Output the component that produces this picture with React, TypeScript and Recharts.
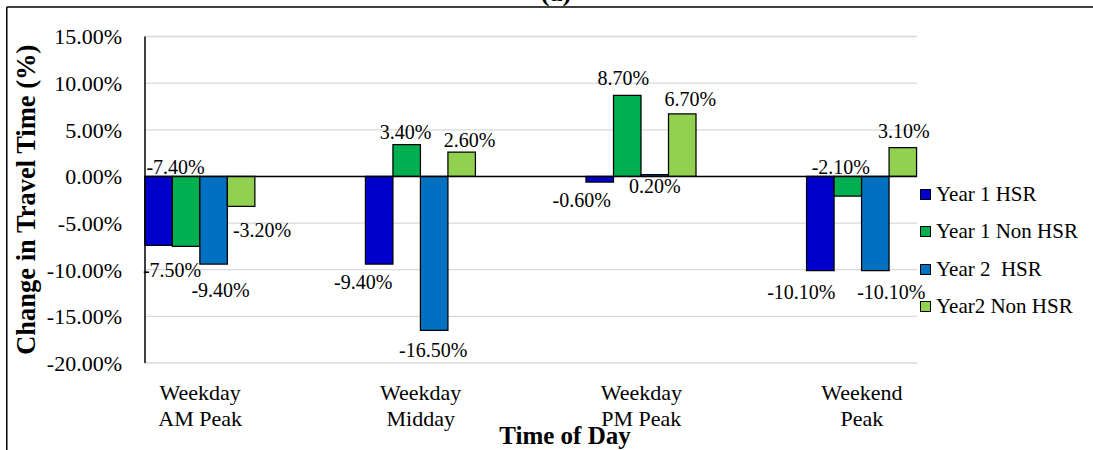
import React from 'react';
import {
  BarChart,
  Bar,
  XAxis,
  YAxis,
  CartesianGrid,
  Legend,
  LabelList,
  ReferenceLine,
  Label,
} from 'recharts';

const serif = '"Liberation Serif", "Times New Roman", Times, serif';

const categories = [
  ['Weekday', 'AM Peak'],
  ['Weekday', 'Midday'],
  ['Weekday', 'PM Peak'],
  ['Weekend', 'Peak'],
];

const year1Hsr = [-7.4, -9.4, -0.6, -10.1];
const year1NonHsr = [-7.5, 3.4, 8.7, -2.1];
const year2Hsr = [-9.4, -16.5, 0.2, -10.1];
const year2NonHsr = [-3.2, 2.6, 6.7, 3.1];

const yTicks = [-20, -15, -10, -5, 0, 5, 10, 15];

// label nudges in px: [dx from bar centre, dy from bar end]
const nudgesY1Hsr = [[17, -78], [-16, 18], [-18, 18], [-19, 22]];
const nudgesY1Non = [[-14, 24], [-1, -12], [-4, -17], [-7, -29]];
const nudgesY2Hsr = [[7, 26], [-1, 20], [0, 12], [16, 22]];
const nudgesY2Non = [[21, 24], [8, -12], [8, -15], [1, -16]];

const series = [
  { key: 'y1Hsr', name: 'Year 1 HSR', color: '#0000CC', nudges: nudgesY1Hsr },
  { key: 'y1Non', name: 'Year 1 Non HSR', color: '#00B050', nudges: nudgesY1Non },
  { key: 'y2Hsr', name: 'Year 2  HSR', color: '#0070C0', nudges: nudgesY2Hsr },
  { key: 'y2Non', name: 'Year2 Non HSR', color: '#92D050', nudges: nudgesY2Non },
];

const data = categories.map((_, i) => ({
  pos: i,
  y1Hsr: year1Hsr[i],
  y1Non: year1NonHsr[i],
  y2Hsr: year2Hsr[i],
  y2Non: year2NonHsr[i],
}));

const pct = (v: number) => `${v.toFixed(2)}%`;

const makeLabel = (nudges: number[][]) => (props: any) => {
  const vb = props.viewBox ?? props;
  const x = Number(props.x ?? vb.x);
  const y = Number(props.y ?? vb.y);
  const w = Number(props.width ?? vb.width);
  const h = Number(props.height ?? vb.height);
  const value = Number(props.value);
  const idx = props.index ?? 0;
  const end = value >= 0 ? Math.min(y, y + h) : Math.max(y, y + h);
  const [dx, dy] = nudges[idx] ?? [0, 0];
  return (
    <text
      x={x + w / 2 + dx}
      y={end + dy}
      dy="0.33em"
      textAnchor="middle"
      fontFamily={serif}
      fontSize={20}
      fill="#000"
    >
      {pct(value)}
    </text>
  );
};

const CategoryTick = ({ x, y, payload }: any) => {
  const lines = categories[payload.value] ?? [];
  return (
    <text x={x} y={y} textAnchor="middle" fontFamily={serif} fontSize={22} fill="#000">
      {lines.map((line, i) => (
        <tspan key={i} x={x} dy={i === 0 ? 37 : 26}>
          {line}
        </tspan>
      ))}
    </text>
  );
};

const renderLegend = () => (
  <div style={{ fontFamily: serif, fontSize: 21, color: '#000' }}>
    {series.map((s) => (
      <div
        key={s.key}
        style={{ display: 'flex', alignItems: 'center', height: 37.3, whiteSpace: 'pre' }}
      >
        <span
          style={{
            flexShrink: 0,
            width: 9,
            height: 9,
            background: s.color,
            border: '1.5px solid #000',
            marginRight: 5,
          }}
        />
        {s.name}
      </div>
    ))}
  </div>
);

export default function App() {
  return (
    <div style={{ position: 'absolute', left: 0, top: 0, width: 1093, height: 450, background: '#fff' }}>
      <BarChart
        width={1093}
        height={450}
        data={data}
        margin={{ top: 36.5, right: 176, bottom: 27, left: 0 }}
        barGap={0}
        barSize={27.5}
      >
        <CartesianGrid vertical={false} stroke="#d9d9d9" strokeWidth={1.3} />
        <XAxis
          dataKey="pos"
          type="number"
          domain={[-0.25, 3.25]}
          ticks={[0, 1, 2, 3]}
          interval={0}
          height={60}
          axisLine={false}
          tickLine={false}
          tickSize={0}
          tickMargin={0}
          tick={<CategoryTick />}
        >
          <Label
            content={({ viewBox }: any) => (
              <text
                x={viewBox.x + viewBox.width / 2 + 34}
                y={viewBox.y + 81}
                textAnchor="middle"
                fontFamily={serif}
                fontSize={25}
                fontWeight="bold"
                fill="#000"
              >
                Time of Day
              </text>
            )}
          />
        </XAxis>
        <YAxis
          width={145}
          domain={[-20, 15]}
          ticks={yTicks}
          interval={0}
          tickFormatter={pct}
          axisLine={{ stroke: '#000', strokeWidth: 1.5 }}
          tickLine={false}
          tickSize={0}
          tickMargin={23}
          tick={{ fill: '#000', fontFamily: serif, fontSize: 22 }}
        >
          <Label
            content={({ viewBox }: any) => {
              const cx = viewBox.x + 35;
              const cy = viewBox.y + viewBox.height / 2;
              return (
                <text
                  x={cx}
                  y={cy}
                  transform={`rotate(-90 ${cx} ${cy})`}
                  textAnchor="middle"
                  fontFamily={serif}
                  fontSize={26.5}
                  fontWeight="bold"
                  fill="#000"
                >
                  Change in Travel Time (%)
                </text>
              );
            }}
          />
        </YAxis>
        <Legend
          layout="vertical"
          align="center"
          verticalAlign="middle"
          content={renderLegend}
          wrapperStyle={{ left: 920, top: 176, width: 175 }}
        />
        {series.map((s) => (
          <Bar
            key={s.key}
            dataKey={s.key}
            name={s.name}
            fill={s.color}
            stroke="#000"
            strokeWidth={1.25}
            isAnimationActive={false}
          >
            <LabelList dataKey={s.key} content={makeLabel(s.nudges)} />
          </Bar>
        ))}
        <ReferenceLine y={0} stroke="#000" strokeWidth={1.5} />
      </BarChart>
      <svg
        width={1093}
        height={450}
        style={{ position: 'absolute', left: 0, top: 0, pointerEvents: 'none' }}
      >
        <line x1={6.75} y1={7} x2={1093} y2={7} stroke="#000" strokeWidth={1.5} />
        <line x1={6.75} y1={7} x2={6.75} y2={450} stroke="#000" strokeWidth={1.5} />
        <text x={556} y={1} textAnchor="middle" fontFamily={serif} fontSize={26} fontWeight="bold" fill="#000">
          (a)
        </text>
      </svg>
    </div>
  );
}
